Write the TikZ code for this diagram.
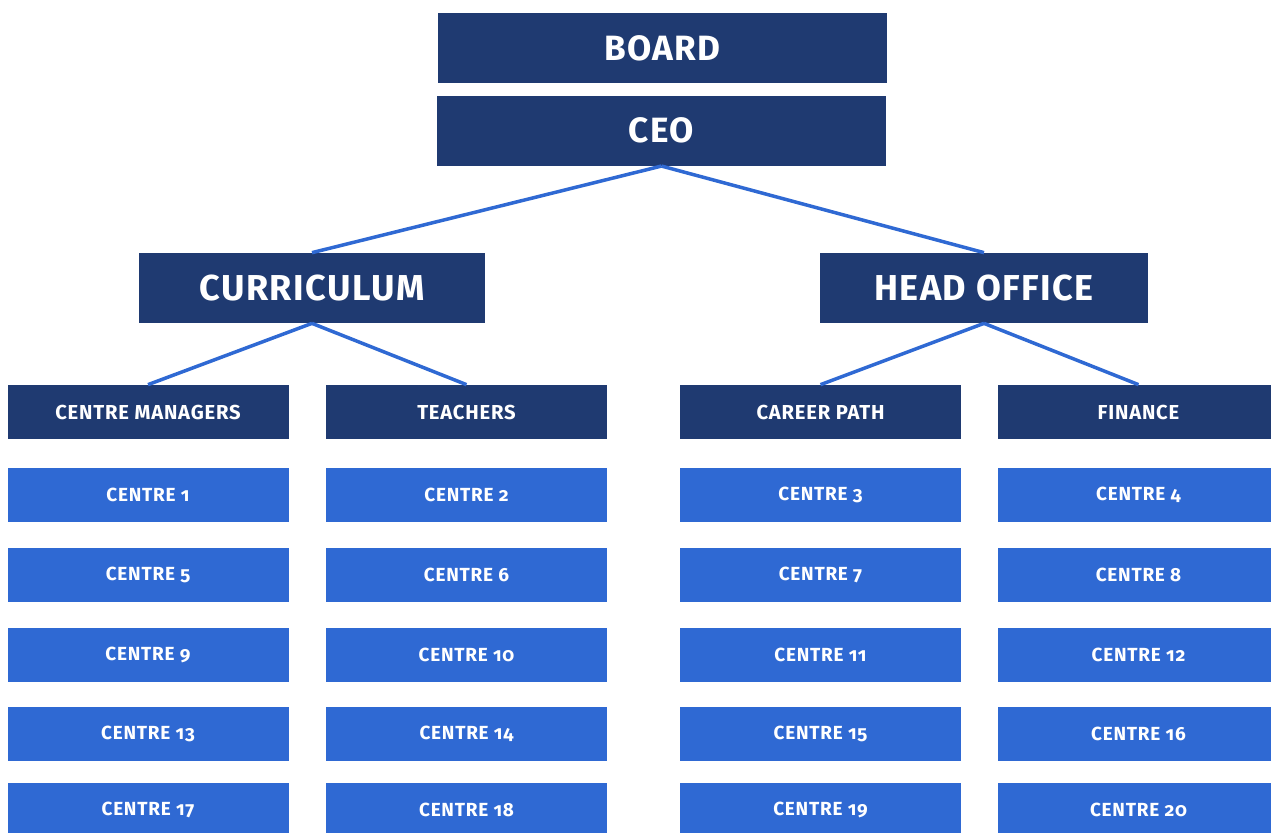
\documentclass[tikz,border=0pt]{standalone}
\usepackage{fontspec}
\setmainfont{Fira Sans}[Numbers=OldStyle, LetterSpace=4]
\usepackage{tikz}
\usetikzlibrary{positioning}
\definecolor{navy}{HTML}{1F3A71}
\definecolor{brightblue}{HTML}{2F69D3}

\begin{document}
\begin{tikzpicture}[
    topbox/.style={fill=navy, text=white, inner sep=0pt, minimum height=1.4cm, font=\bfseries\fontsize{20}{22}\selectfont},
    unitbox/.style={fill=navy, text=white, inner sep=0pt, minimum height=1.4cm, font=\bfseries\fontsize{20.5}{22}\selectfont},
    teambox/.style={fill=navy, text=white, inner sep=0pt, minimum height=1.08cm, minimum width=5.62cm, font=\bfseries\fontsize{11.5}{13}\selectfont},
    centrebox/.style={fill=brightblue, text=white, inner sep=0pt, minimum height=1.08cm, minimum width=5.62cm, font=\bfseries\fontsize{10.8}{12}\selectfont},
    link/.style={draw=brightblue, line width=0.07cm},
    node distance=0.5cm
]
\useasboundingbox (0,0) rectangle (25.42,-16.66);
% Top
\node[topbox, minimum width=8.98cm] (board) at (13.25,-0.96) {BOARD};
\node[topbox, minimum width=8.98cm, below=0.24cm of board.south, anchor=north, xshift=-0.02cm] (ceo) {CEO};
\node[unitbox, minimum width=6.92cm] (curr) at (6.24,-5.76) {CURRICULUM};
\node[unitbox, minimum width=6.56cm] (head) at (19.68,-5.76) {HEAD OFFICE};

% Teams
\node[teambox] (managers) at (2.96,-8.24) {CENTRE MANAGERS};
\node[teambox] (teachers) at (9.33,-8.24) {TEACHERS};
\node[teambox] (career) at (16.41,-8.24) {CAREER PATH};
\node[teambox] (finance) at (22.77,-8.24) {FINANCE};

% Centres
\node[centrebox, below=0.56cm of managers] (c1) {CENTRE 1};
\node[centrebox, below=0.56cm of teachers] (c2) {CENTRE 2};
\node[centrebox, below=0.56cm of career] (c3) {CENTRE 3};
\node[centrebox, below=0.56cm of finance] (c4) {CENTRE 4};
\node[centrebox, below=0.52cm of c1] (c5) {CENTRE 5};
\node[centrebox, below=0.52cm of c2] (c6) {CENTRE 6};
\node[centrebox, below=0.52cm of c3] (c7) {CENTRE 7};
\node[centrebox, below=0.52cm of c4] (c8) {CENTRE 8};
\node[centrebox, below=of c5] (c9) {CENTRE 9};
\node[centrebox, below=of c6] (c10) {CENTRE 10};
\node[centrebox, below=of c7] (c11) {CENTRE 11};
\node[centrebox, below=of c8] (c12) {CENTRE 12};
\node[centrebox, below=0.48cm of c9] (c13) {CENTRE 13};
\node[centrebox, below=0.48cm of c10] (c14) {CENTRE 14};
\node[centrebox, below=0.48cm of c11] (c15) {CENTRE 15};
\node[centrebox, below=0.48cm of c12] (c16) {CENTRE 16};
\node[centrebox, below=0.43cm of c13] (c17) {CENTRE 17};
\node[centrebox, below=0.43cm of c14] (c18) {CENTRE 18};
\node[centrebox, below=0.43cm of c15] (c19) {CENTRE 19};
\node[centrebox, below=0.43cm of c16] (c20) {CENTRE 20};

% Links
\draw[link] (ceo.south) -- (curr.north);
\draw[link] (ceo.south) -- (head.north);
\draw[link] (curr.south) -- (managers.north);
\draw[link] (curr.south) -- (teachers.north);
\draw[link] (head.south) -- (career.north);
\draw[link] (head.south) -- (finance.north);
\end{tikzpicture}
\end{document}
